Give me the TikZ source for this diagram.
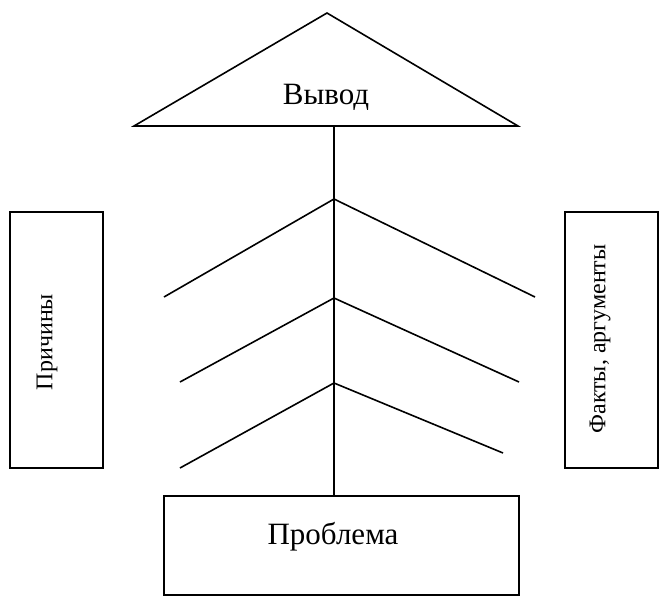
\documentclass[tikz,border=0pt]{standalone}
\usepackage{fontspec}
\setmainfont{Liberation Serif}
\begin{document}
\begin{tikzpicture}[x=1pt,y=-1pt,
  ln/.style={line width=1.6pt,black},
  frame/.style={draw,line width=1.6pt},
  lbl/.style={font=\fontsize{31}{35}\selectfont},
  slbl/.style={font=\fontsize{24}{28}\selectfont,rotate=90}]
\useasboundingbox (0,0) rectangle (670,605);
% triangle
\coordinate (apex) at (327,13);
\coordinate (bl) at (134,126);
\coordinate (br) at (518,126);
\coordinate (bm) at (334,126);
\draw[ln,line join=miter] (bl) -- (apex) -- (br) -- cycle;
\node[lbl] (vyvod) at (326,97) {Вывод};
% problem box
\node[frame,minimum width=355pt,minimum height=99pt] (prob) at (341.5,545.5) {};
\node[lbl] (probt) at (333,537) {Проблема};
\coordinate (ptop) at (334,496);
\draw[ln] (bm) -- (ptop);
% side boxes
\node[frame,minimum width=93pt,minimum height=256pt] (left) at (56.7,339.7) {};
\node[slbl] (leftt) at (47,342) {Причины};
\node[frame,minimum width=93pt,minimum height=256pt] (right) at (611.7,339.7) {};
\node[slbl] (rightt) at (600,339) {Факты, аргументы};
% chevrons
\coordinate (a1) at (334,199);
\coordinate (l1) at (164,297);
\coordinate (r1) at (535,297);
\coordinate (a2) at (334,298);
\coordinate (l2) at (180,382);
\coordinate (r2) at (519,382);
\coordinate (a3) at (334,383);
\coordinate (l3) at (180,468);
\coordinate (r3) at (503,453);
\draw[ln] (l1) -- (a1) -- (r1);
\draw[ln] (l2) -- (a2) -- (r2);
\draw[ln] (l3) -- (a3) -- (r3);
\end{tikzpicture}
\end{document}
